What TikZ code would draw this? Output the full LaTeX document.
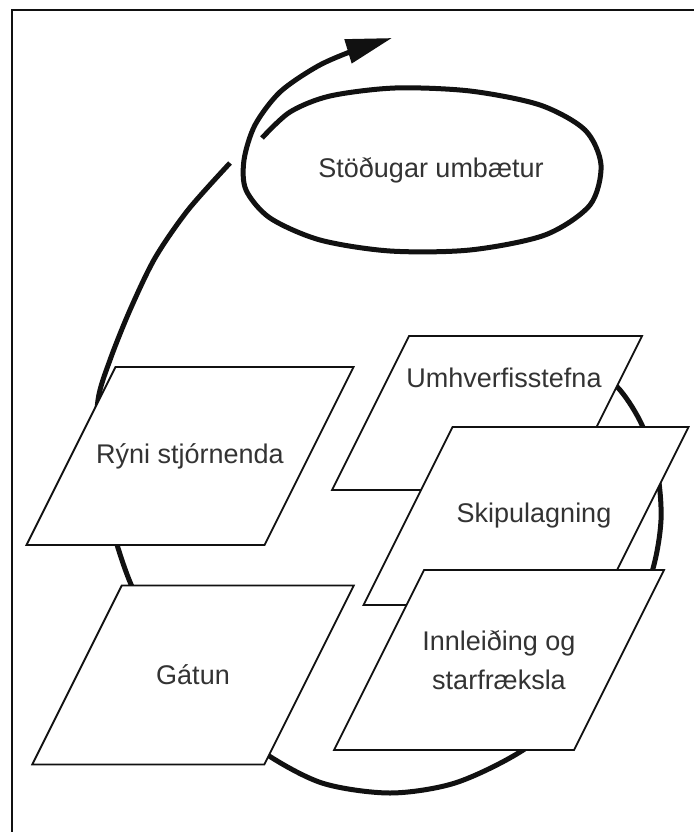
\documentclass[tikz,border=0pt]{standalone}
\usepackage{fontspec}
\setmainfont{Liberation Sans}
\usepackage{tikz}
\usetikzlibrary{arrows.meta, positioning, calc}
\definecolor{ink}{HTML}{111111}
\definecolor{darkgray}{HTML}{333333}
\newcommand\lblfont{\fontsize{27}{39}\selectfont}
\tikzset{
  phaseline/.style={draw=ink, line width=1.8pt, fill=white, line join=miter},
  phasetext/.style={inner sep=0pt, text=darkgray, font=\lblfont, align=center},
  cycle/.style={line width=5pt, color=ink},
  frameline/.style={line width=2.5pt, color=ink},
}
% name, centre x, centre y, width, height, text
\newcommand\phasebox[6]{%
  \filldraw[phaseline] (#2-#4/2+#5/4,#3-#5/2) -- (#2+#4/2+#5/4,#3-#5/2)
    -- (#2+#4/2-#5/4,#3+#5/2) -- (#2-#4/2-#5/4,#3+#5/2) -- cycle;
  \node[phasetext] (#1) at (#2,#3) {#6};
}

\begin{document}
\begin{tikzpicture}[x=1pt,y=-1pt]
  \useasboundingbox (0,0) rectangle (694,832);
  \draw[frameline] (12,832)--(12,10)--(694,10);
  % big loop behind the boxes
  \draw[cycle] plot[smooth] coordinates {(585,358) (620,390) (642,425) (657,470)
    (661,520) (652,572) (625,640) (580,705) (520,752) (455,783) (390,793)
    (322,783) (263,752) (210,708) (163,648) (130,582) (110,520) (97,455)
    (98,400) (110,360) (130,310) (155,258) (188,210) (230,163)};
  \phasebox{policy}{487}{413}{233}{154}{}
  \node[phasetext] (policytext) at ($(policy)+(17,-35)$) {Umhverfisstefna};
  \phasebox{plan}{526}{516}{236}{178}{\hspace*{16pt}Skipulagning}
  \phasebox{doit}{499}{660}{240}{180}{Innleiðing og\\starfræksla}
  \phasebox{review}{190}{456}{238}{178}{Rýni stjórnenda}
  \phasebox{check}{193}{675}{232}{179}{Gátun}
  % improvement spiral
  \node[phasetext] (improve) at (431,170) {Stöðugar umbætur};
  \draw[cycle, -{Triangle[length=46pt,width=24pt]}] plot[smooth] coordinates {(262,138)
    (290,112) (330,96) (395,88) (470,91) (540,105) (585,130) (601,165) (590,205)
    (545,235) (470,250) (390,251) (320,240) (270,218) (246,190) (244,160)
    (255,125) (280,92) (318,66) (355,50) (392,38)};
\end{tikzpicture}
\end{document}
